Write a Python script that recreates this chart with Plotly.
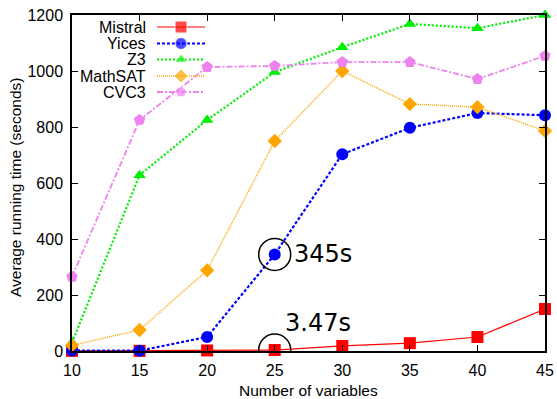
import plotly.graph_objects as go

variables = [10, 15, 20, 25, 30, 35, 40, 45]
mistral = [0.5, 0.6, 2, 3.47, 18, 28, 50, 150]
yices = [2, 1, 50, 345, 703, 797, 850, 842]
z3 = [30, 628, 825, 996, 1085, 1168, 1153, 1200]
mathsat = [20, 75, 288, 750, 1000, 882, 871, 786]
cvc3 = [265, 825, 1014, 1018, 1032, 1032, 971, 1054]

series = [
    ("Mistral", mistral, "#ff0000", "solid", 1.2, "square", 12),
    ("Yices", yices, "#0000ff", "3px,2px", 2.2, "circle", 12),
    ("Z3", z3, "#00ee00", "2px,2px", 2.2, "triangle-up", 11),
    ("MathSAT", mathsat, "#ffa500", "1px,1px", 1.5, "diamond", 11),
    ("CVC3", cvc3, "#ee82ee", "6px,2px,2px,2px", 1.8, "pentagon", 12),
]

FONT = "Liberation Sans, Arial, Helvetica"

fig = go.Figure()
for name, vals, color, dash, w, sym, sz in series:
    fig.add_trace(go.Scatter(
        x=variables, y=vals, mode="lines+markers", name=name,
        line=dict(color=color, dash=dash, width=w),
        marker=dict(symbol=sym, size=sz, color=color),
        cliponaxis=False, showlegend=False,
    ))

# custom legend (gnuplot style: label on left, sample on right) on a pixel-like overlay axis
leg_rows = [27, 43.5, 59.5, 76, 92]
for (name, vals, color, dash, w, sym, sz), yy in zip(series, leg_rows):
    fig.add_trace(go.Scatter(
        x=[157, 181, 205], y=[yy, yy, yy], mode="lines+markers",
        line=dict(color=color, dash=dash, width=w),
        marker=dict(symbol=sym, size=[0, sz, 0], color=color),
        xaxis="x2", yaxis="y2", showlegend=False, hoverinfo="skip", cliponaxis=False,
    ))
    fig.add_annotation(x=148, y=yy, xref="x2", yref="y2", text=name, showarrow=False,
                       xanchor="right", yanchor="middle",
                       font=dict(family=FONT, size=16, color="black"))

# highlight circles
for val in [345, 3.47]:
    fig.add_shape(type="circle", xref="x", yref="y", xsizemode="pixel", ysizemode="pixel",
                  xanchor=25, yanchor=val, x0=-16, x1=16, y0=-16, y1=16,
                  line=dict(color="black", width=1.5))

fig.add_annotation(x=25, y=345, text="345s", showarrow=False, xanchor="left", yanchor="middle",
                   xshift=17, font=dict(family="DejaVu Sans", size=24, color="black"))
fig.add_annotation(x=25, y=3.47, text="3.47s", showarrow=False, xanchor="left", yanchor="middle",
                   xshift=8, yshift=27, font=dict(family="DejaVu Sans", size=24, color="black"))

# axis titles as annotations (fixed positions)
fig.add_annotation(x=0.5, y=0, xref="paper", yref="paper", text="Number of variables",
                   showarrow=False, xanchor="center", yanchor="middle", yshift=-39,
                   font=dict(family=FONT, size=15.5, color="black"))
fig.add_annotation(x=0, y=0.5, xref="paper", yref="paper", text="Average running time (seconds)",
                   showarrow=False, xanchor="center", yanchor="middle", xshift=-57, yshift=-5,
                   textangle=-90, font=dict(family=FONT, size=15.5, color="black"))

axis_common = dict(showgrid=False, zeroline=False, showline=True, linecolor="black",
                   linewidth=1.5, mirror="ticks", ticks="inside", ticklen=6,
                   tickcolor="black", tickwidth=1, automargin=False,
                   tickfont=dict(family=FONT, size=16, color="black"))

fig.update_layout(
    width=557, height=399,
    margin=dict(l=72, r=12, t=15, b=48),
    plot_bgcolor="white", paper_bgcolor="white",
    xaxis=dict(range=[10, 45], tickvals=variables, ticklabelstandoff=4, **axis_common),
    yaxis=dict(range=[0, 1200], tickvals=[0, 200, 400, 600, 800, 1000, 1200],
               ticklabelstandoff=4, **axis_common),
    xaxis2=dict(range=[72, 545], overlaying="x", visible=False, fixedrange=True),
    yaxis2=dict(range=[351, 15], overlaying="y", visible=False, fixedrange=True),
)

fig.write_html("out.html", config={"displayModeBar": False},
               post_script="document.body.style.margin='0';")
